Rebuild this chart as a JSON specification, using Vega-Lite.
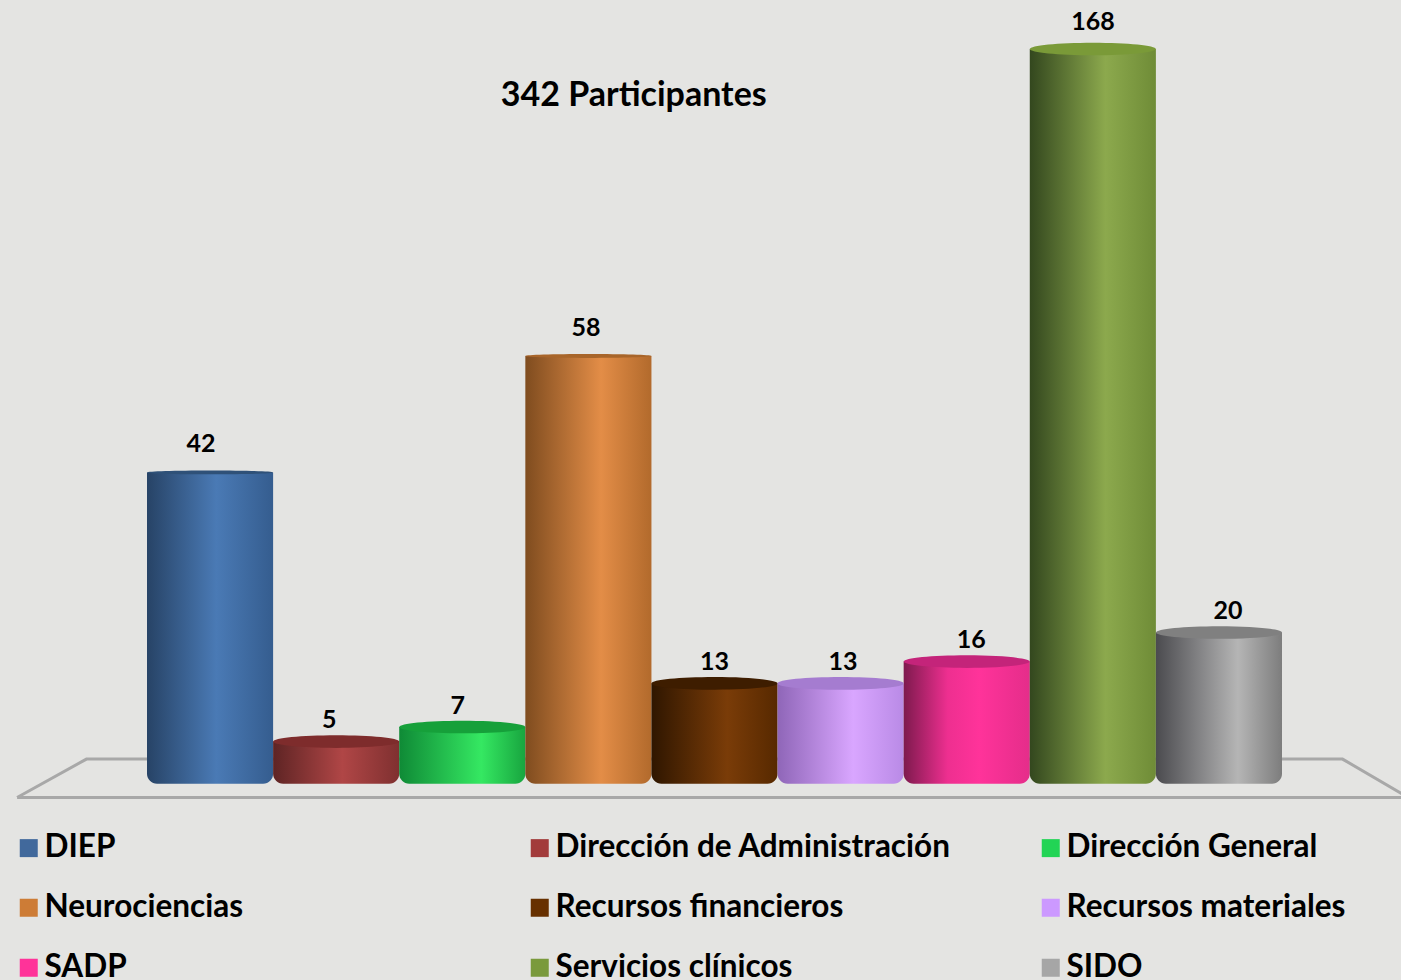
{
"$schema":"https://vega.github.io/schema/vega-lite/v6.json",
"width":1401,"height":980,"padding":0,
"autosize":{"type":"fit","contains":"padding"},
"background":"#e4e4e2",
"config":{"view":{"stroke":null},"font":"Lato"},
"data":{"values":[
{"area":"DIEP","participantes":42},
{"area":"Dirección de Administración","participantes":5},
{"area":"Dirección General","participantes":7},
{"area":"Neurociencias","participantes":58},
{"area":"Recursos financieros","participantes":13},
{"area":"Recursos materiales","participantes":13},
{"area":"SADP","participantes":16},
{"area":"Servicios clínicos","participantes":168},
{"area":"SIDO","participantes":20}
]},
"encoding":{
"x":{"field":"area","type":"nominal","sort":null,"axis":null,"scale":{"domain":["DIEP","Dirección de Administración","Dirección General","Neurociencias","Recursos financieros","Recursos materiales","SADP","Servicios clínicos","SIDO"],"range":[147,1282],"paddingInner":0,"paddingOuter":0}},
"y":{"field":"participantes","type":"quantitative","axis":null,"stack":null,"scale":{"domain":[0,58,168],"range":[778,356,49],"nice":false,"zero":false}}
},
"layer":[
{"data":{"values":[{"paso":1,"ancho":-1.03,"nivel":-2.68},{"paso":2,"ancho":-0.48,"nivel":2.6},{"paso":3,"ancho":9.48,"nivel":2.6},{"paso":4,"ancho":10.0,"nivel":-2.68},{"paso":5,"ancho":-1.03,"nivel":-2.68}]},
 "mark":{"type":"line","color":"#a8a8a8","strokeWidth":3,"strokeJoin":"miter"},
 "encoding":{"x":{"field":"ancho","type":"quantitative","axis":null,"scale":{"domain":[0,9],"range":[147,1282],"nice":false,"zero":false}},"y":{"field":"nivel","type":"quantitative"},"order":{"field":"paso","type":"quantitative"}}},
{"mark":{"type":"point","filled":true,"size":4,"shape":"square","opacity":1},
 "encoding":{"color":{"field":"area","type":"nominal","sort":null,
  "scale":{"domain":["DIEP","Dirección de Administración","Dirección General","Neurociencias","Recursos financieros","Recursos materiales","SADP","Servicios clínicos","SIDO"],"range":["#41699c","#a23b3b","#22d455","#cd7c36","#673000","#cc99ff","#ff3399","#7a9a3c","#a6a6a6"]},
  "legend":{"title":null,"orient":"none","direction":"horizontal","legendX":13,"legendY":832,"columns":3,"gridAlign":"all","columnPadding":84,"rowPadding":27,"symbolType":"square","symbolSize":324,"symbolStrokeWidth":0,"symbolOpacity":1,"labelFont":"Lato","labelFontWeight":"bold","labelFontSize":31.5,"labelColor":"#000000","labelOffset":0,"labelLimit":700}}}},
{"transform":[{"filter":"datum.area==='DIEP'"}],"mark":{"type":"bar","cornerRadiusBottomLeft":10,"cornerRadiusBottomRight":10,"color":{"gradient":"linear","x1":0,"x2":1,"y1":0,"y2":0,"stops":[{"offset":0,"color":"#274366"},{"offset":0.55,"color":"#4a7ab5"},{"offset":1,"color":"#355d8f"}]}},"encoding":{"y2":{"datum":-0.8}}},
{"transform":[{"filter":"datum.area==='Dirección de Administración'"}],"mark":{"type":"bar","cornerRadiusBottomLeft":10,"cornerRadiusBottomRight":10,"color":{"gradient":"linear","x1":0,"x2":1,"y1":0,"y2":0,"stops":[{"offset":0,"color":"#5e2424"},{"offset":0.55,"color":"#b04646"},{"offset":1,"color":"#7f3030"}]}},"encoding":{"y2":{"datum":-0.8}}},
{"transform":[{"filter":"datum.area==='Dirección General'"}],"mark":{"type":"bar","cornerRadiusBottomLeft":10,"cornerRadiusBottomRight":10,"color":{"gradient":"linear","x1":0,"x2":1,"y1":0,"y2":0,"stops":[{"offset":0,"color":"#0f8a36"},{"offset":0.65,"color":"#35e862"},{"offset":1,"color":"#18a53f"}]}},"encoding":{"y2":{"datum":-0.8}}},
{"transform":[{"filter":"datum.area==='Neurociencias'"}],"mark":{"type":"bar","cornerRadiusBottomLeft":10,"cornerRadiusBottomRight":10,"color":{"gradient":"linear","x1":0,"x2":1,"y1":0,"y2":0,"stops":[{"offset":0,"color":"#7f4c1f"},{"offset":0.6,"color":"#e38d47"},{"offset":1,"color":"#b26a2c"}]}},"encoding":{"y2":{"datum":-0.8}}},
{"transform":[{"filter":"datum.area==='Recursos financieros'"}],"mark":{"type":"bar","cornerRadiusBottomLeft":10,"cornerRadiusBottomRight":10,"color":{"gradient":"linear","x1":0,"x2":1,"y1":0,"y2":0,"stops":[{"offset":0,"color":"#2f1600"},{"offset":0.6,"color":"#7a3c08"},{"offset":1,"color":"#572900"}]}},"encoding":{"y2":{"datum":-0.8}}},
{"transform":[{"filter":"datum.area==='Recursos materiales'"}],"mark":{"type":"bar","cornerRadiusBottomLeft":10,"cornerRadiusBottomRight":10,"color":{"gradient":"linear","x1":0,"x2":1,"y1":0,"y2":0,"stops":[{"offset":0,"color":"#8f66b8"},{"offset":0.6,"color":"#d9a6ff"},{"offset":1,"color":"#b98ae6"}]}},"encoding":{"y2":{"datum":-0.8}}},
{"transform":[{"filter":"datum.area==='SADP'"}],"mark":{"type":"bar","cornerRadiusBottomLeft":10,"cornerRadiusBottomRight":10,"color":{"gradient":"linear","x1":0,"x2":1,"y1":0,"y2":0,"stops":[{"offset":0,"color":"#7e1a4e"},{"offset":0.35,"color":"#ee2f90"},{"offset":0.6,"color":"#ff339a"},{"offset":1,"color":"#e52d8a"}]}},"encoding":{"y2":{"datum":-0.8}}},
{"transform":[{"filter":"datum.area==='Servicios clínicos'"}],"mark":{"type":"bar","cornerRadiusBottomLeft":10,"cornerRadiusBottomRight":10,"color":{"gradient":"linear","x1":0,"x2":1,"y1":0,"y2":0,"stops":[{"offset":0,"color":"#33471e"},{"offset":0.6,"color":"#8ca94d"},{"offset":1,"color":"#6f8c37"}]}},"encoding":{"y2":{"datum":-0.8}}},
{"transform":[{"filter":"datum.area==='SIDO'"}],"mark":{"type":"bar","cornerRadiusBottomLeft":10,"cornerRadiusBottomRight":10,"color":{"gradient":"linear","x1":0,"x2":1,"y1":0,"y2":0,"stops":[{"offset":0,"color":"#4b4b4f"},{"offset":0.65,"color":"#b5b5b5"},{"offset":1,"color":"#7d7d7d"}]}},"encoding":{"y2":{"datum":-0.8}}},
{"transform":[{"filter":"datum.participantes!==42 && datum.participantes!==58"}],
 "mark":{"type":"point","filled":true,"opacity":1,"size":15901,"shape":"M-1,0A1,0.1 0 1 1 1,0A1,0.1 0 1 1 -1,0Z"},
 "encoding":{"color":{"field":"area","type":"nominal","sort":null,"legend":null,"scale":{"domain":["DIEP","Dirección de Administración","Dirección General","Neurociencias","Recursos financieros","Recursos materiales","SADP","Servicios clínicos","SIDO"],"range":["#2f5178","#7e2c2c","#16a03a","#a8652a","#3e1d00","#a57cd0","#c4247a","#7a9a38","#808080"]}}}},
{"transform":[{"filter":"datum.participantes===42 || datum.participantes===58"}],
 "mark":{"type":"point","filled":true,"opacity":1,"size":15901,"shape":"M-1,0A1,0.03 0 1 1 1,0A1,0.03 0 1 1 -1,0Z"},
 "encoding":{"color":{"field":"area","type":"nominal","sort":null,"legend":null,"scale":{"domain":["DIEP","Neurociencias"],"range":["#2f5178","#a8652a"]}}}},
{"transform":[{"filter":"datum.participantes<42 "}],
 "mark":{"type":"text","font":"Lato","fontWeight":"bold","fontSize":25,"color":"#000000","baseline":"middle","dy":-21.5},
 "encoding":{"text":{"field":"participantes","type":"quantitative"},"x":{"field":"area","type":"nominal","sort":null,"axis":null,"scale":{"domain":["DIEP","Dirección de Administración","Dirección General","Neurociencias","Recursos financieros","Recursos materiales","SADP","Servicios clínicos","SIDO"],"range":[136.8,1292.2],"paddingInner":0,"paddingOuter":0}}}},
{"transform":[{"filter":"datum.participantes===42 || datum.participantes===58"}],
 "mark":{"type":"text","font":"Lato","fontWeight":"bold","fontSize":25,"color":"#000000","baseline":"middle","dy":-28},
 "encoding":{"text":{"field":"participantes","type":"quantitative"},"x":{"field":"area","type":"nominal","sort":null,"axis":null,"scale":{"domain":["DIEP","Dirección de Administración","Dirección General","Neurociencias","Recursos financieros","Recursos materiales","SADP","Servicios clínicos","SIDO"],"range":[136.8,1292.2],"paddingInner":0,"paddingOuter":0}}}},
{"transform":[{"filter":"datum.participantes===168"}],
 "mark":{"type":"text","font":"Lato","fontWeight":"bold","fontSize":25,"color":"#000000","baseline":"middle","dy":-27,"dx":-6.6},
 "encoding":{"text":{"field":"participantes","type":"quantitative"},"x":{"field":"area","type":"nominal","sort":null,"axis":null,"scale":{"domain":["DIEP","Dirección de Administración","Dirección General","Neurociencias","Recursos financieros","Recursos materiales","SADP","Servicios clínicos","SIDO"],"range":[136.8,1292.2],"paddingInner":0,"paddingOuter":0}}}},
{"data":{"values":[{"titulo":"342 Participantes","ancho":3.86,"nivel":151}]},
 "mark":{"type":"text","font":"Lato","fontWeight":"bold","fontSize":34,"color":"#000000","baseline":"middle","align":"center"},
 "encoding":{"text":{"field":"titulo","type":"nominal"},"x":{"field":"ancho","type":"quantitative","axis":null,"scale":{"domain":[0,9],"range":[147,1282],"nice":false,"zero":false}},"y":{"field":"nivel","type":"quantitative"}}}
],
"resolve":{"scale":{"x":"independent","color":"independent"}}
}
